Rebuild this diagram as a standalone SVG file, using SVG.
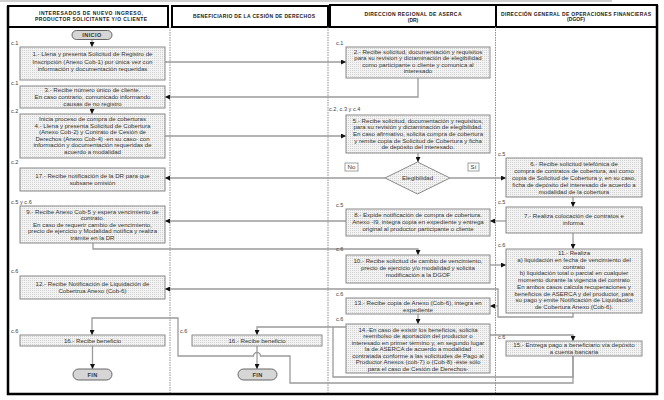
<svg xmlns="http://www.w3.org/2000/svg" width="664" height="400" viewBox="0 0 664 400">
<defs>
<pattern id="stip" width="2" height="2" patternUnits="userSpaceOnUse"><rect width="2" height="2" fill="#f3f3f3"/><rect width="1" height="1" fill="#d2d2d2"/></pattern>
<marker id="ah" viewBox="0 0 6 6" refX="6" refY="3" markerWidth="5" markerHeight="5" markerUnits="userSpaceOnUse" orient="auto"><path d="M0,0 L6,3 L0,6 z" fill="#111"/></marker>
</defs>
<style>
.box{fill:url(#stip);stroke:#8a8a8a;stroke-width:1}
.t{font-family:"Liberation Sans",Arial,sans-serif;font-size:6.1px;fill:#333;text-anchor:middle}
.c{font-family:"Liberation Sans",Arial,sans-serif;font-size:5.6px;fill:#444}
.h{font-family:"Liberation Sans",Arial,sans-serif;font-size:5px;font-weight:bold;fill:#222;text-anchor:middle}
.ln{fill:none;stroke:#9b9b9b;stroke-width:1.3}
.ar{marker-end:url(#ah)}
.hd{fill:#fff;stroke:#000;stroke-width:2}
.lane{stroke:#8f8f8f;stroke-width:1;stroke-dasharray:1.5 1}
.term{fill:#d6d6d6;stroke:#666;stroke-width:1}
.tt{font-family:"Liberation Sans",Arial,sans-serif;font-size:5.6px;fill:#333;text-anchor:middle;font-weight:bold;letter-spacing:0.4px}
.lb{fill:#fff;stroke:#8a8a8a;stroke-width:0.8}
</style>
<rect x="0" y="0" width="612" height="2" fill="#cfcfcf"/>
<g id="lanes">
<rect class="hd" x="8" y="6" width="160" height="21"/>
<rect class="hd" x="172" y="6" width="156" height="21"/>
<rect class="hd" x="330" y="5" width="166" height="22"/>
<rect class="hd" x="496" y="5" width="161" height="22"/>
<text class="h" x="91" y="15" textLength="104" lengthAdjust="spacing">INTERESADOS DE NUEVO INGRESO,</text>
<text class="h" x="91" y="20.5" textLength="112" lengthAdjust="spacing">PRODUCTOR SOLICITANTE Y/O CLIENTE</text>
<text class="h" x="254" y="18" textLength="122" lengthAdjust="spacing">BENEFICIARIO DE LA CESIÓN DE DERECHOS</text>
<text class="h" x="413" y="16" textLength="97" lengthAdjust="spacing">DIRECCION REGIONAL DE ASERCA</text>
<text class="h" x="413" y="21.5">(DR)</text>
<text class="h" x="576" y="15.5" textLength="150" lengthAdjust="spacing">DIRECCIÓN GENERAL DE OPERACIONES FINANCIERAS</text>
<text class="h" x="576" y="21">(DGOF)</text>
<line class="lane" x1="170" y1="27" x2="170" y2="393"/>
<line class="lane" x1="328" y1="27" x2="328" y2="393"/>
<line class="lane" x1="495.5" y1="27" x2="495.5" y2="393"/>
<path d="M8,6 V394 H657 V5" fill="none" stroke="#000" stroke-width="2.5"/>
</g>
<g id="connectors">
<path class="ln ar" d="M92,39.5 V47"/>
<path class="ln ar" d="M165,62 H346"/>
<path class="ln ar" d="M418,78 V97 H165"/>
<path class="ln ar" d="M92,108 V114"/>
<path class="ln ar" d="M165,136 H346"/>
<path class="ln ar" d="M418,153 V162"/>
<path class="ln ar" d="M385,178 H165"/>
<path class="ln ar" d="M450,178 H506"/>
<path class="ln ar" d="M573,197 V207"/>
<path class="ln ar" d="M506,221 H490"/>
<path class="ln ar" d="M346,221 H165"/>
<path class="ln ar" d="M573,233 V249"/>
<path class="ln ar" d="M93,243 V249 H418 V255"/>
<path class="ln ar" d="M490,265 H506"/>
<path class="ln ar" d="M573,313 V317 H498 V289 H165"/>
<path class="ln ar" d="M498,306 H490"/>
<path class="ln ar" d="M418,314 V324"/>
<path class="ln ar" d="M490,335 H573 V341"/>
<path class="ln ar" d="M346,327 H257 V335"/>
<path class="ln" d="M573,356 V377 H333 V327"/>
<path class="ln ar" d="M573,356 V383 H290 V356 H260.5 A3.5,3.5 0 0 0 253.5,356 H178 V318 H92 V335"/>
<path class="ln ar" d="M257,346 V369"/>
<path class="ln ar" d="M92.5,346 V369"/>
</g>
<g id="inicio"><rect class="term" x="72" y="30.5" width="40" height="9" rx="4.5"/><text class="tt" x="92" y="37">INICIO</text></g>
<g id="n1"><text class="c" x="11" y="45">c.1</text><rect class="box" x="20" y="47" width="145" height="33"/>
<text class="t" x="92.5" y="55.5">1.- Llena y presenta Solicitud de Registro de</text>
<text class="t" x="92.5" y="63.5">Inscripción (Anexo Cob-1) por única vez con</text>
<text class="t" x="92.5" y="71">información y documentación requeridas</text></g>
<g id="n3"><text class="c" x="11" y="85">c.1</text><rect class="box" x="20" y="86" width="145" height="22"/>
<text class="t" x="92.5" y="92">3.- Recibe número único de cliente.</text>
<text class="t" x="92.5" y="99">En caso contrario, comunicado informando</text>
<text class="t" x="92.5" y="105.5">causas de no registro</text></g>
<g id="n4"><text class="c" x="11" y="113">c.2</text><rect class="box" x="20" y="114" width="145" height="44"/>
<text class="t" x="92.5" y="121">Inicia proceso de compra de coberturas</text>
<text class="t" x="92.5" y="127.6">4.- Llena y presenta Solicitud de Cobertura</text>
<text class="t" x="92.5" y="134.2">(Anexo Cob-2) y Contrato de Cesión de</text>
<text class="t" x="92.5" y="140.8">Derechos (Anexo Cob-4) -en su caso- con</text>
<text class="t" x="92.5" y="147.4">información y documentación requeridas de</text>
<text class="t" x="92.5" y="154">acuerdo a modalidad</text></g>
<g id="n17"><text class="c" x="11" y="164">c.2</text><rect class="box" x="20" y="168" width="145" height="23"/>
<text class="t" x="92.5" y="178">17.- Recibe notificación de la DR para que</text>
<text class="t" x="92.5" y="185">subsane omisión</text></g>
<g id="n9"><text class="c" x="11" y="204">c.5 y c.6</text><rect class="box" x="20" y="206" width="145" height="37"/>
<text class="t" x="92.5" y="213.5">9.- Recibe Anexo Cob-5 y espera vencimiento de</text>
<text class="t" x="92.5" y="220">contrato.</text>
<text class="t" x="92.5" y="226.5">En caso de requerir cambio de vencimiento,</text>
<text class="t" x="92.5" y="233">precio de ejercicio y Modalidad notifica y realiza</text>
<text class="t" x="92.5" y="239.5">trámite en la DR</text></g>
<g id="n12"><text class="c" x="11" y="273">c.6</text><rect class="box" x="20" y="276" width="145" height="23"/>
<text class="t" x="92.5" y="286">12.- Recibe Notificación de Liquidación de</text>
<text class="t" x="92.5" y="293">Cobertrua Anexo (Cob-6)</text></g>
<g id="n16a"><text class="c" x="11" y="333">c.6</text><rect class="box" x="20" y="335" width="145" height="11"/>
<text class="t" x="92.5" y="342.5">16.- Recibe beneficio</text></g>
<g id="fin1"><rect class="term" x="73" y="369" width="39" height="11" rx="5.5"/><text class="tt" x="92.5" y="376.8">FIN</text></g>
<g id="n16b"><text class="c" x="180" y="333">c.6</text><rect class="box" x="192" y="335" width="130" height="11"/>
<text class="t" x="257" y="342.5">16.- Recibe beneficio</text></g>
<g id="fin2"><rect class="term" x="238" y="369" width="39" height="11" rx="5.5"/><text class="tt" x="257.5" y="376.8">FIN</text></g>
<g id="n2"><text class="c" x="336" y="45">c.1</text><rect class="box" x="346" y="47" width="144" height="31"/>
<text class="t" x="418" y="54">2.- Recibe solicitud,  documentación y requisitos</text>
<text class="t" x="418" y="60.3">para su revision y dictaminación de elegibilidad</text>
<text class="t" x="418" y="66.7">como participante o cliente y comunica al</text>
<text class="t" x="418" y="73">interesado</text></g>
<g id="n5"><text class="c" x="329" y="111">c.2, c.3 y c.4</text><rect class="box" x="346" y="115" width="144" height="38"/>
<text class="t" x="418" y="122.5">5.- Recibe solicitud,  documentación y requisitos,</text>
<text class="t" x="418" y="129.2">para su revisión y dictaminación de elegibilidad.</text>
<text class="t" x="418" y="135.9">En caso afirmativo, solicita compra de cobertura</text>
<text class="t" x="418" y="142.6">y remite copia de Solicitud de Cobertura y ficha</text>
<text class="t" x="418" y="149.3">de depósito del interesado.</text></g>
<g id="dec"><polygon class="box" points="385,178 417.5,162 450,178 417.5,194"/>
<text class="t" x="417.5" y="180">Elegibilidad</text>
<rect class="lb" x="345" y="163" width="13" height="8"/><text class="t" x="351.5" y="169.2">No</text>
<rect class="lb" x="468" y="163" width="11" height="8"/><text class="t" x="473.5" y="169.2">Sí</text></g>
<g id="n8"><text class="c" x="336" y="207">c.5</text><rect class="box" x="346" y="209" width="144" height="27"/>
<text class="t" x="418" y="217">8.- Expide notificación de compra de cobertura.</text>
<text class="t" x="418" y="224">Anexo -I9, integra copia en expediente y entrega</text>
<text class="t" x="418" y="231">original al productor participante o cliente</text></g>
<g id="n10"><text class="c" x="336" y="251">c.6</text><rect class="box" x="346" y="255" width="144" height="28"/>
<text class="t" x="418" y="263">10.- Recibe solicitud de cambio de vencimiento,</text>
<text class="t" x="418" y="270">precio de ejercicio y/o modalidad y solicita</text>
<text class="t" x="418" y="277">modificación a la DGOF</text></g>
<g id="n13"><text class="c" x="336" y="296">c.6</text><rect class="box" x="346" y="298" width="144" height="16"/>
<text class="t" x="418" y="305">13.- Recibe copia de Anexo (Cob-6), integra en</text>
<text class="t" x="418" y="311.5">expediente</text></g>
<g id="n14"><text class="c" x="336" y="321">c.6</text><rect class="box" x="346" y="324" width="144" height="49"/>
<text class="t" x="418" y="331.5">14.-En caso de existir los beneficios, solicita</text>
<text class="t" x="418" y="338">reembolso de aportación del productor o</text>
<text class="t" x="418" y="344.5">interesado en primer término y, en segundo lugar</text>
<text class="t" x="418" y="351">la de ASERCA de acuerdo a modalidad</text>
<text class="t" x="418" y="357.5">contratada conforme a las solicitudes de Pago al</text>
<text class="t" x="418" y="364">Productor Anexos (cob-7) o (Cob-8) -éste sólo</text>
<text class="t" x="418" y="370.5">para el caso de Cesión de Derechos-</text></g>
<g id="n6"><text class="c" x="498" y="156">c.5</text><rect class="box" x="506" y="158" width="136" height="39"/>
<text class="t" x="574" y="166">6.- Recibe solicitud telefónica de</text>
<text class="t" x="574" y="173">compra de contratos de cobertura, así como</text>
<text class="t" x="574" y="180">copia de Solicitud de Cobertura y, en su caso,</text>
<text class="t" x="574" y="187">ficha de depósito del interesado de acuerdo a</text>
<text class="t" x="574" y="194">modalidad de la cobertura</text></g>
<g id="n7"><text class="c" x="498" y="204">c.5</text><rect class="box" x="506" y="207" width="136" height="26"/>
<text class="t" x="574" y="218">7.- Realiza  colocación de contratos e</text>
<text class="t" x="574" y="225">informa.</text></g>
<g id="n11"><text class="c" x="498" y="247">c.6</text><rect class="box" x="506" y="249" width="136" height="64"/>
<text class="t" x="574" y="255">11.- Realiza</text>
<text class="t" x="574" y="261.75">a) liquidación en fecha de vencimiento del</text>
<text class="t" x="574" y="268.5">contrato</text>
<text class="t" x="574" y="275.25">b) liquidación total o parcial en cualquier</text>
<text class="t" x="574" y="282">momento durante la vigencia del contrato</text>
<text class="t" x="574" y="288.75">En ambos casos calcula recuperaciones y</text>
<text class="t" x="574" y="295.5">beneficios de ASERCA y del productor, para</text>
<text class="t" x="574" y="302.25">su pago y emite Notificación de Liquidación</text>
<text class="t" x="574" y="309">de Cobertura Anexo (Cob-6).</text></g>
<g id="n15"><text class="c" x="498" y="339">c.6</text><rect class="box" x="506" y="341" width="136" height="15"/>
<text class="t" x="574" y="347">15.- Entrega pago a beneficiario vía depósito</text>
<text class="t" x="574" y="353.5">a cuenta bancaria</text></g>
</svg>
